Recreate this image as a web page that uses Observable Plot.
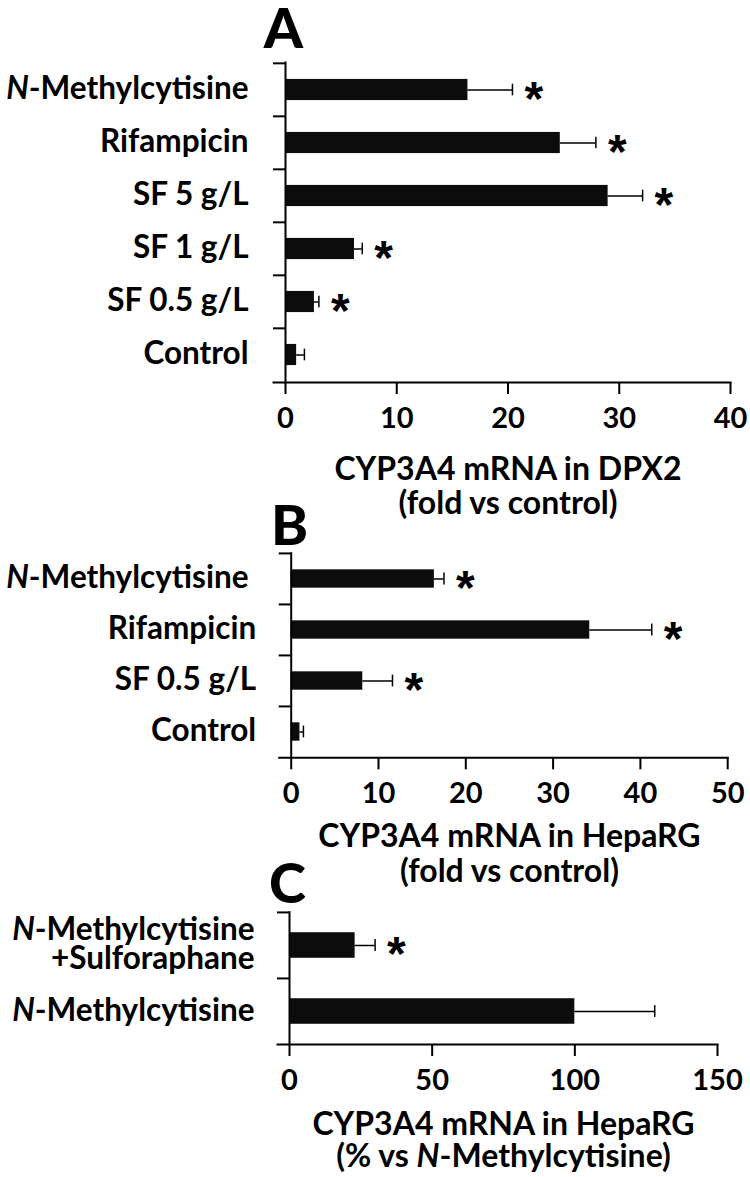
<!DOCTYPE html>
<html><head><meta charset="utf-8">
<script src="https://cdn.jsdelivr.net/npm/d3@7"></script>
<script src="https://cdn.jsdelivr.net/npm/@observablehq/plot@0.6"></script>
<style>
body{margin:0;background:#fff;}
#fig{position:relative;width:750px;height:1177px;overflow:hidden;background:#fff;}
#fig svg{position:absolute;left:0;overflow:visible;}
</style></head><body><div id="fig"></div>
<script>
// ---- data ----
const panelLetters = ["A", "B", "C"];
const axisTitles = [
  "CYP3A4 mRNA in DPX2\n(fold vs control)",
  "CYP3A4 mRNA in HepaRG\n(fold vs control)",
  "CYP3A4 mRNA in HepaRG\n(% vs N-Methylcytisine)"
];
const catsA = ["N-Methylcytisine", "Rifampicin", "SF 5 g/L", "SF 1 g/L", "SF 0.5 g/L", "Control"];
const meanA = [16.4, 24.7, 29.0, 6.2, 2.6, 1.0];
const sdA   = [4.0, 3.2, 3.1, 0.7, 0.4, 0.7];
const sigA  = [true, true, true, true, true, false];
const ticksA = [0, 10, 20, 30, 40];

const catsB = ["N-Methylcytisine\u00a0", "Rifampicin", "SF 0.5 g/L", "Control"];
const meanB = [16.4, 34.2, 8.2, 1.0];
const sdB   = [1.1, 7.1, 3.4, 0.4];
const sigB  = [true, true, true, false];
const ticksB = [0, 10, 20, 30, 40, 50];

const catsC = ["N-Methylcytisine\n+Sulforaphane", "N-Methylcytisine"];
const meanC = [23, 100];
const sdC   = [7, 28];
const sigC  = [true, false];
const ticksC = [0, 50, 100, 150];

const sigMark = "*";

// ---- drawing ----
const FONT = "Lato, 'Open Sans', 'DejaVu Sans', sans-serif";

function italN(svg) {
  const walker = document.createTreeWalker(svg, NodeFilter.SHOW_TEXT);
  const nodes = [];
  while (walker.nextNode()) nodes.push(walker.currentNode);
  for (const n of nodes) {
    const s = n.nodeValue, i = s.indexOf("N-Methyl");
    if (i < 0) continue;
    const p = n.parentNode;
    const t = document.createElementNS("http://www.w3.org/2000/svg", "tspan");
    t.setAttribute("font-style", "italic");
    t.textContent = "N";
    p.insertBefore(document.createTextNode(s.slice(0, i)), n);
    p.insertBefore(t, n);
    p.insertBefore(document.createTextNode(s.slice(i + 1)), n);
    p.removeChild(n);
  }
}

function panel(o) {
  const data = o.cats.map((c, i) => ({cat: c, mean: o.means[i], sd: o.sds[i], sig: o.sigs[i]}));
  const innerH = o.height - o.mt - o.mb;
  const step = innerH / o.cats.length;
  const barInset = (step - o.barH) / 2;
  const capInset = (step - 12) / 2;
  const svg = Plot.plot({
    width: 750, height: o.height,
    marginTop: o.mt, marginBottom: o.mb, marginLeft: o.ml, marginRight: o.mr,
    style: {background: "transparent", overflow: "visible", fontFamily: FONT, color: "#000"},
    x: {domain: o.xDomain, label: null},
    y: {domain: o.cats, padding: 0, label: null},
    marks: [
      Plot.barX(data, {x: "mean", y: "cat", fill: "#0c0c0c", insetTop: barInset, insetBottom: barInset}),
      Plot.ruleY(data, {y: "cat", x1: "mean", x2: d => d.mean + d.sd, stroke: "#000", strokeWidth: 1.5}),
      Plot.tickX(data, {y: "cat", x: d => d.mean + d.sd, stroke: "#000", strokeWidth: 1.5, insetTop: capInset, insetBottom: capInset}),
      Plot.text(data.filter(d => d.sig), {y: "cat", x: d => d.mean + d.sd, text: () => sigMark, textAnchor: "start",
        dx: 12, dy: 9.5, fontSize: 48, fontWeight: 700, fontFamily: "'Liberation Sans', Arial, sans-serif"}),
      Plot.axisX({ticks: o.xTicks, tickSize: 12, tickPadding: 13, fontSize: 29, fontWeight: 700, strokeWidth: 2,
        tickFormat: d => String(d), label: null}),
      Plot.axisY({tickSize: 0, tickPadding: o.tickPad, fontSize: 31.5, fontWeight: 700, lineHeight: 0.92, label: null}),
      Plot.axisY({text: null, tickSize: 12, dy: -step / 2, strokeWidth: 2, label: null}),
      Plot.frame({anchor: "left", strokeWidth: 2}),
      Plot.frame({anchor: "bottom", strokeWidth: 2, insetLeft: -12}),
      Plot.text([o.letter], {frameAnchor: "top-left", dx: o.letterDx, dy: o.letterDy, lineAnchor: "top",
        textAnchor: "middle", fontSize: 56, fontWeight: 900}),
      Plot.text([o.title], {frameAnchor: "bottom", dy: o.titleDy, lineAnchor: "top", fontSize: 32,
        fontWeight: 700, lineHeight: o.titleLH})
    ]
  });
  svg.style.top = o.top + "px";
  italN(svg);
  document.getElementById("fig").appendChild(svg);
}

panel({cats: catsA, means: meanA, sds: sdA, sigs: sigA, xDomain: [0, 40], xTicks: ticksA,
  letter: panelLetters[0], title: axisTitles[0], top: 0, height: 500, mt: 62, mb: 118, ml: 285, mr: 20,
  barH: 21.5, tickPad: 37, letterDx: -2, letterDy: -54, titleDy: 74, titleLH: 1.05});
panel({cats: catsB, means: meanB, sds: sdB, sigs: sigB, xDomain: [0, 50], xTicks: ticksB,
  letter: panelLetters[1], title: axisTitles[1], top: 500, height: 380, mt: 52.7, mb: 122.7, ml: 290.7, mr: 22.8,
  barH: 18.5, tickPad: 35, letterDx: -1.7, letterDy: -47.7, titleDy: 64.7, titleLH: 1.08});
panel({cats: catsC, means: meanC, sds: sdC, sigs: sigC, xDomain: [0, 150], xTicks: ticksC,
  letter: panelLetters[2], title: axisTitles[2], top: 880, height: 297, mt: 31.7, mb: 133, ml: 289, mr: 33,
  barH: 25.7, tickPad: 35, letterDx: -2, letterDy: -48.7, titleDy: 68, titleLH: 1.0});
</script>
</body></html>
